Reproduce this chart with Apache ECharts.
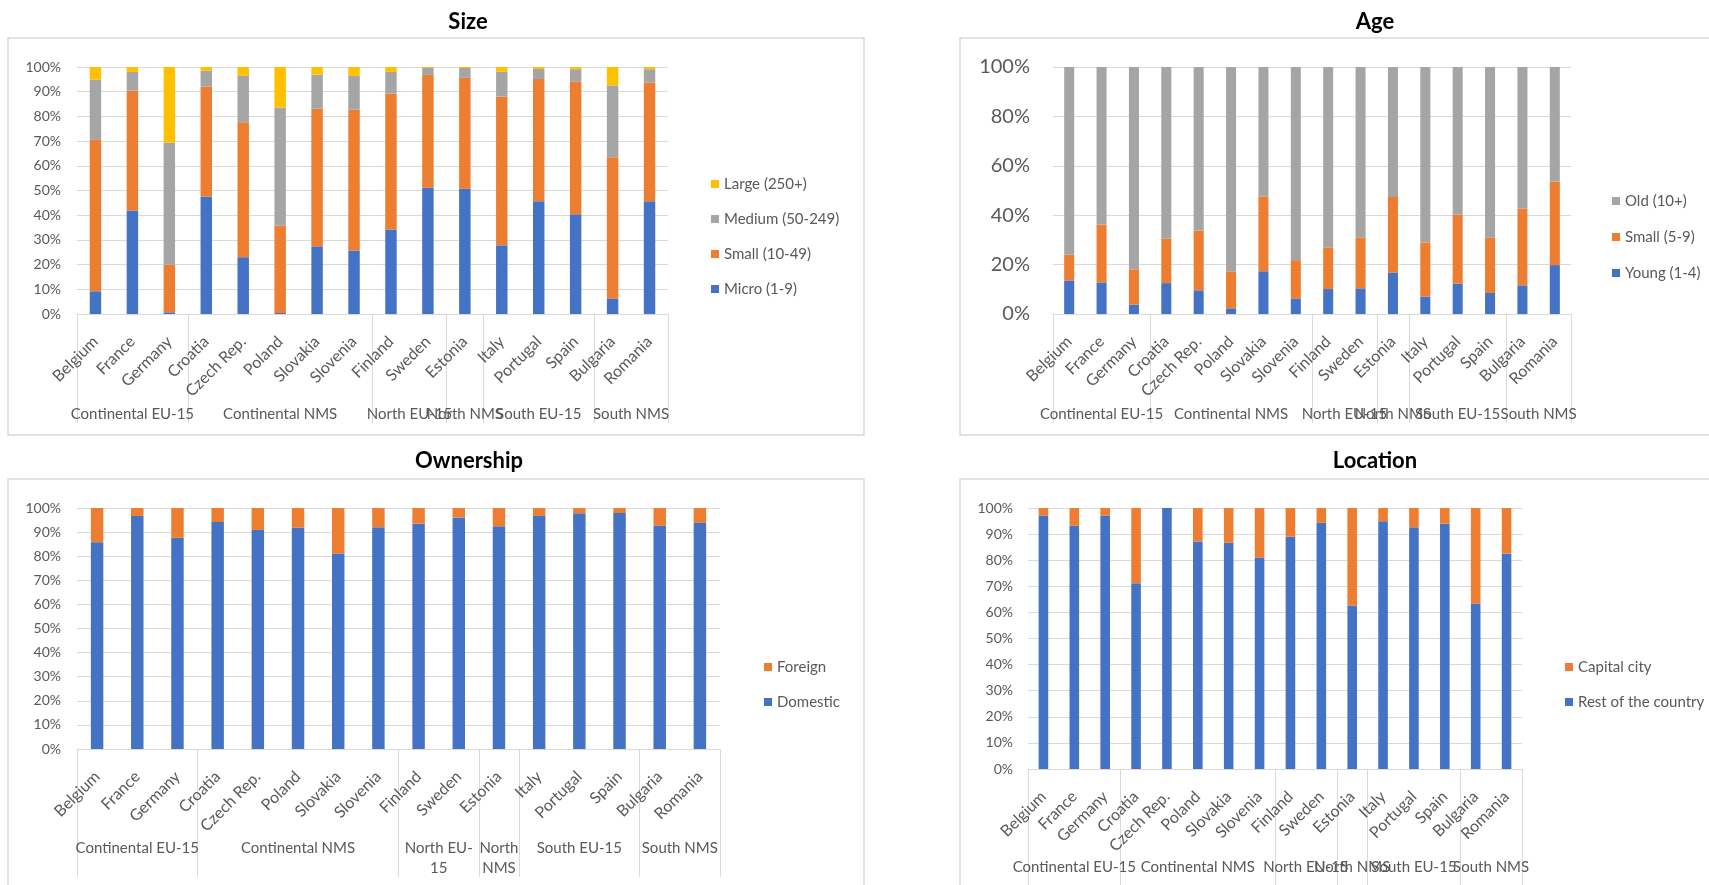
<!DOCTYPE html>
<html>
<head>
<meta charset="utf-8">
<script src="https://cdn.jsdelivr.net/npm/echarts@6/dist/echarts.min.js"></script>
<style>
  html, body { margin: 0; padding: 0; background: #ffffff; }
  #chart { width: 1709px; height: 885px; }
</style>
</head>
<body>
<div id="chart"></div>
<script>
// Countries on the horizontal axis, grouped by region
const countries = ['Belgium', 'France', 'Germany', 'Croatia', 'Czech Rep.', 'Poland', 'Slovakia', 'Slovenia',
  'Finland', 'Sweden', 'Estonia', 'Italy', 'Portugal', 'Spain', 'Bulgaria', 'Romania'];
const regions = ['Continental EU-15', 'Continental NMS', 'North EU-15', 'North NMS', 'South EU-15', 'South NMS'];
const regionsWrapped = ['Continental EU-15', 'Continental NMS', 'North EU-\n15', 'North\nNMS', 'South EU-15', 'South NMS'];
const regionCounts = [3, 5, 2, 1, 3, 2];

// Size of firms (% of firms)
const sizeMicro  = [9.2, 41.9, 0.7, 47.6, 23.0, 0.4, 27.4, 25.7, 34.2, 51.1, 50.7, 27.8, 45.6, 40.4, 6.3, 45.6];
const sizeSmall  = [61.3, 48.5, 19.2, 44.4, 54.6, 35.4, 55.8, 57.0, 55.0, 45.7, 44.9, 60.2, 49.5, 53.7, 57.2, 48.1];
const sizeMedium = [24.4, 7.6, 49.5, 6.5, 18.8, 47.8, 13.7, 13.7, 8.8, 2.8, 4.0, 10.1, 4.1, 5.0, 29.0, 5.4];
const sizeLarge  = [5.1, 2.0, 30.6, 1.5, 3.6, 16.4, 3.1, 3.6, 2.0, 0.4, 0.4, 1.9, 0.8, 0.9, 7.5, 0.9];

// Age of firms
const ageYoung = [13.6, 12.8, 3.8, 12.5, 9.6, 2.3, 17.3, 6.3, 10.1, 10.4, 16.8, 7.1, 12.3, 8.5, 11.6, 19.8];
const ageSmall = [10.4, 23.3, 14.3, 18.1, 24.2, 15.0, 30.3, 15.5, 16.9, 20.5, 30.6, 21.9, 27.9, 22.5, 31.0, 33.7];
const ageOld   = [76.0, 63.9, 81.9, 69.4, 66.2, 82.7, 52.4, 78.2, 73.0, 69.1, 52.6, 71.0, 59.8, 69.0, 57.4, 46.5];

// Ownership
const ownDomestic = [85.8, 96.7, 87.6, 94.2, 90.9, 91.9, 81.1, 92.0, 93.5, 96.1, 92.4, 96.7, 97.8, 97.9, 92.7, 93.8];
const ownForeign  = [14.2, 3.3, 12.4, 5.8, 9.1, 8.1, 18.9, 8.0, 6.5, 3.9, 7.6, 3.3, 2.2, 2.1, 7.3, 6.2];

// Location
const locRest    = [97.1, 93.2, 97.1, 71.2, 100.0, 87.2, 86.7, 81.0, 89.0, 94.3, 62.6, 94.9, 92.6, 94.0, 63.4, 82.5];
const locCapital = [2.9, 6.8, 2.9, 28.8, 0.0, 12.8, 13.3, 19.0, 11.0, 5.7, 37.4, 5.1, 7.4, 6.0, 36.6, 17.5];

const BLUE = '#4472C4', ORANGE = '#ED7D31', GRAY = '#A5A5A5', YELLOW = '#FFC000';
const LINE = '#D9D9D9', TEXT = '#595959';
const FONT = 'Lato, "Liberation Sans", Arial, sans-serif';

// Region boundaries and centres on a 0..16 scale shared with the category bands
const bounds = [0];
regionCounts.forEach(c => bounds.push(bounds[bounds.length - 1] + c));
const centres = regionCounts.map((c, i) => bounds[i] + c / 2);
// Blank end labels keep the axis' min/max label check away from the real region names
const labelValues = [0].concat(centres, [countries.length]);

const panels = [
  {
    title: 'Size', titleX: 468, titleY: 11,
    box: [8, 38, 856, 397],
    grid: { left: 77, top: 67, width: 591, height: 247 },
    yInterval: 10, yFont: 14, yMargin: 16,
    legend: { left: 711, top: 176, gap: 19 },
    tickLen: 109, groupMargin: 90, groupNames: regions,
    series: [
      { name: 'Micro (1-9)', data: sizeMicro, color: BLUE },
      { name: 'Small (10-49)', data: sizeSmall, color: ORANGE },
      { name: 'Medium (50-249)', data: sizeMedium, color: GRAY },
      { name: 'Large (250+)', data: sizeLarge, color: YELLOW }
    ]
  },
  {
    title: 'Age', titleX: 1375, titleY: 11,
    box: [960, 38, 780, 397],
    grid: { left: 1053, top: 67, width: 518, height: 247 },
    yInterval: 20, yFont: 20, yMargin: 23,
    legend: { left: 1612, top: 193, gap: 20 },
    tickLen: 109, groupMargin: 90, groupNames: regions,
    series: [
      { name: 'Young (1-4)', data: ageYoung, color: BLUE },
      { name: 'Small (5-9)', data: ageSmall, color: ORANGE },
      { name: 'Old (10+)', data: ageOld, color: GRAY }
    ]
  },
  {
    title: 'Ownership', titleX: 469, titleY: 450,
    box: [8, 479, 856, 430],
    grid: { left: 77, top: 508, width: 643, height: 241 },
    yInterval: 10, yFont: 14, yMargin: 16,
    legend: { left: 764, top: 659, gap: 19 },
    tickLen: 128, groupMargin: 89, groupNames: regionsWrapped,
    series: [
      { name: 'Domestic', data: ownDomestic, color: BLUE },
      { name: 'Foreign', data: ownForeign, color: ORANGE }
    ]
  },
  {
    title: 'Location', titleX: 1375, titleY: 450,
    box: [960, 479, 780, 430],
    grid: { left: 1028, top: 508, width: 494, height: 261 },
    yInterval: 10, yFont: 14, yMargin: 15,
    legend: { left: 1565, top: 659, gap: 19 },
    tickLen: 130, groupMargin: 88, groupNames: regions,
    series: [
      { name: 'Rest of the country', data: locRest, color: BLUE },
      { name: 'Capital city', data: locCapital, color: ORANGE }
    ]
  }
];

const option = {
  animation: false,
  backgroundColor: '#ffffff',
  textStyle: { fontFamily: FONT },
  title: [], legend: [], grid: [], xAxis: [], yAxis: [], series: [],
  graphic: []
};

panels.forEach((p, i) => {
  // Chart-area frame
  option.graphic.push({
    type: 'rect', z: -10, silent: true,
    shape: { x: p.box[0], y: p.box[1], width: p.box[2], height: p.box[3] },
    style: { fill: 'none', stroke: LINE, lineWidth: 1.5 }
  });

  option.title.push({
    text: p.title, left: p.titleX, top: p.titleY, textAlign: 'center', padding: 0,
    textStyle: { fontFamily: FONT, fontSize: 22, fontWeight: 'bold', color: '#000000' }
  });

  option.grid.push(Object.assign({ containLabel: false, outerBoundsMode: 'none' }, p.grid));

  // Country axis
  option.xAxis.push({
    type: 'category', gridIndex: i, data: countries, position: 'bottom',
    axisLine: { lineStyle: { color: LINE, width: 1 } },
    axisTick: { show: false },
    axisLabel: { interval: 0, rotate: 45, margin: 25, color: TEXT, fontSize: 16, fontFamily: FONT }
  });

  // Region axis: separators at region boundaries, names at region centres
  const names = p.groupNames;
  option.xAxis.push({
    type: 'value', gridIndex: i, min: 0, max: countries.length, position: 'bottom', offset: 0,
    axisLine: { show: false },
    splitLine: { show: false },
    axisTick: { show: true, customValues: bounds, length: p.tickLen, lineStyle: { color: LINE, width: 1 } },
    axisLabel: {
      show: true, customValues: labelValues, margin: p.groupMargin, color: TEXT, fontSize: 15,
      fontFamily: FONT, lineHeight: 20, verticalAlign: 'top', align: 'center', hideOverlap: false,
      formatter: v => {
        const k = centres.indexOf(v);
        return k >= 0 ? names[k] : '';
      }
    }
  });

  option.yAxis.push({
    type: 'value', gridIndex: i, min: 0, max: 100, interval: p.yInterval,
    axisLine: { show: false }, axisTick: { show: false },
    splitLine: { lineStyle: { color: LINE, width: 1 } },
    axisLabel: { formatter: '{value}%', color: TEXT, fontSize: p.yFont, margin: p.yMargin, fontFamily: FONT }
  });

  option.legend.push({
    orient: 'vertical', left: p.legend.left, top: p.legend.top, padding: 0,
    itemWidth: 8, itemHeight: 8, itemGap: p.legend.gap, icon: 'rect',
    data: p.series.map(s => s.name).reverse(),
    textStyle: { color: TEXT, fontSize: 15, lineHeight: 16, fontFamily: FONT }
  });

  p.series.forEach(s => {
    option.series.push({
      type: 'bar', name: s.name, stack: 'stack' + i,
      xAxisIndex: i * 2, yAxisIndex: i,
      barCategoryGap: '69%',
      itemStyle: { color: s.color },
      data: s.data
    });
  });
});

const chart = echarts.init(document.getElementById('chart'), null, { renderer: 'canvas' });
chart.setOption(option);
</script>
</body>
</html>
